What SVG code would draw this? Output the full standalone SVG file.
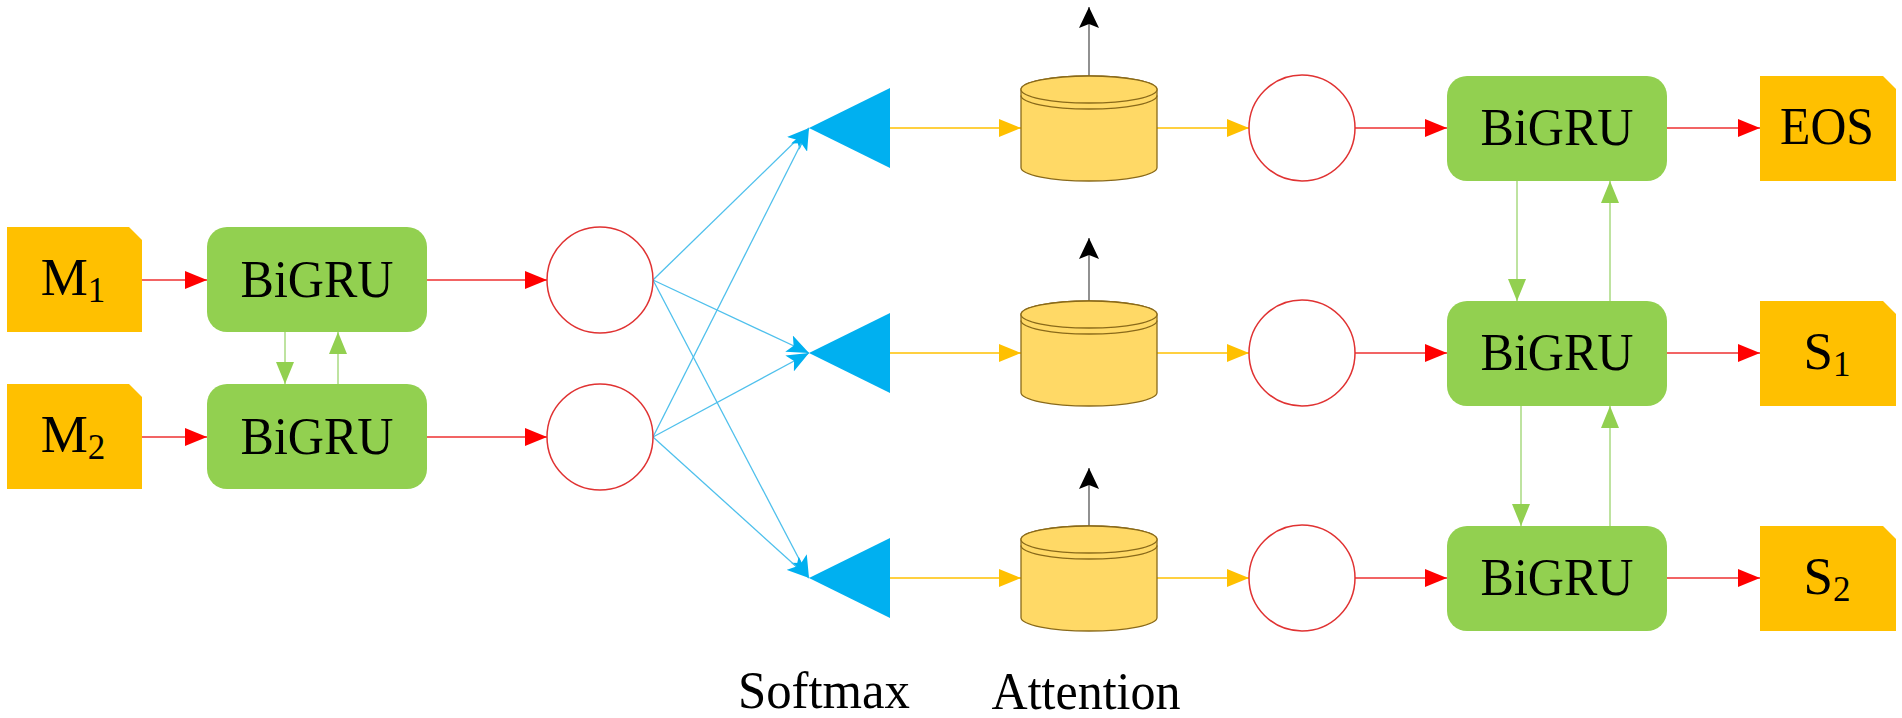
<svg xmlns="http://www.w3.org/2000/svg" xmlns:xlink="http://www.w3.org/1999/xlink" width="1902" height="718" viewBox="0 0 1902 718">
<style>
.doc{fill:#FFC000;}
.gru{fill:#92D050;}
.txt{font-family:"Liberation Serif","Times New Roman",serif;font-size:53px;fill:#000;text-anchor:middle;}
.sub{font-size:35px;}
.circ{fill:#fff;stroke:#E03232;stroke-width:1.5;}
.soft{fill:#00B0F0;}
.red{stroke:#EE3030;stroke-width:1.5;fill:none;}
.yel{stroke:#FFC000;stroke-width:1.5;fill:none;}
.grn{stroke:#A8DA80;stroke-width:1.5;fill:none;}
.blu{stroke:#4FC0EC;stroke-width:1.3;fill:none;}
.blk{stroke:#555;stroke-width:1.3;fill:none;}
.cyl{fill:#FFD966;stroke:#8A6A1A;stroke-width:1.3;}
.cylring{fill:none;stroke:#8A6A1A;stroke-width:1.3;}
</style>
<defs>
<marker id="mRed" markerUnits="userSpaceOnUse" markerWidth="22" markerHeight="18" refX="22" refY="9" orient="auto"><path d="M0,0 L22,9 L0,18 z" fill="#FF0000"/></marker>
<marker id="mYel" markerUnits="userSpaceOnUse" markerWidth="22" markerHeight="18" refX="22" refY="9" orient="auto"><path d="M0,0 L22,9 L0,18 z" fill="#FFC000"/></marker>
<marker id="mGrn" markerUnits="userSpaceOnUse" markerWidth="22" markerHeight="18" refX="22" refY="9" orient="auto"><path d="M0,0 L22,9 L0,18 z" fill="#92D050"/></marker>
<marker id="mBlk" markerUnits="userSpaceOnUse" markerWidth="21" markerHeight="20" refX="21" refY="10" orient="auto"><path d="M0,0 L21,10 L0,20 L4,10 z" fill="#000"/></marker>
<marker id="mBlu" markerUnits="userSpaceOnUse" markerWidth="22" markerHeight="18" refX="22" refY="9" orient="auto"><path d="M0,0 L22,9 L0,18 L5,9 z" fill="#00B0F0"/></marker>
<g id="cylShape">
<path class="cyl" d="M1021,13.5 L1021,91.5 A68,13.5 0 0 0 1157,91.5 L1157,13.5 A68,13.5 0 0 0 1021,13.5 Z"/>
<ellipse class="cyl" cx="1089" cy="13.5" rx="68" ry="13.5"/>
<path class="cylring" d="M1021,19.5 A68,13.5 0 0 0 1157,19.5"/>
</g>
</defs>

<g id="connectors">
<line class="red" x1="142" y1="280" x2="207" y2="280" marker-end="url(#mRed)"/>
<line class="red" x1="142" y1="437" x2="207" y2="437" marker-end="url(#mRed)"/>
<line class="grn" x1="285" y1="332" x2="285" y2="384" marker-end="url(#mGrn)"/>
<line class="grn" x1="338" y1="384" x2="338" y2="332" marker-end="url(#mGrn)"/>
<line class="red" x1="427" y1="280" x2="547" y2="280" marker-end="url(#mRed)"/>
<line class="red" x1="427" y1="437" x2="547" y2="437" marker-end="url(#mRed)"/>
<line class="blu" x1="653" y1="280" x2="809" y2="128" marker-end="url(#mBlu)"/>
<line class="blu" x1="653" y1="437" x2="809" y2="128" marker-end="url(#mBlu)"/>
<line class="blu" x1="653" y1="280" x2="809" y2="353" marker-end="url(#mBlu)"/>
<line class="blu" x1="653" y1="437" x2="809" y2="353" marker-end="url(#mBlu)"/>
<line class="blu" x1="653" y1="280" x2="809" y2="578" marker-end="url(#mBlu)"/>
<line class="blu" x1="653" y1="437" x2="809" y2="578" marker-end="url(#mBlu)"/>
<line class="yel" x1="890" y1="128" x2="1021" y2="128" marker-end="url(#mYel)"/>
<line class="yel" x1="1157" y1="128" x2="1249" y2="128" marker-end="url(#mYel)"/>
<line class="blk" x1="1089" y1="76" x2="1089" y2="7" marker-end="url(#mBlk)"/>
<line class="red" x1="1355" y1="128" x2="1447" y2="128" marker-end="url(#mRed)"/>
<line class="red" x1="1667" y1="128" x2="1760" y2="128" marker-end="url(#mRed)"/>
<line class="yel" x1="890" y1="353" x2="1021" y2="353" marker-end="url(#mYel)"/>
<line class="yel" x1="1157" y1="353" x2="1249" y2="353" marker-end="url(#mYel)"/>
<line class="blk" x1="1089" y1="301" x2="1089" y2="238" marker-end="url(#mBlk)"/>
<line class="red" x1="1355" y1="353" x2="1447" y2="353" marker-end="url(#mRed)"/>
<line class="red" x1="1667" y1="353" x2="1760" y2="353" marker-end="url(#mRed)"/>
<line class="yel" x1="890" y1="578" x2="1021" y2="578" marker-end="url(#mYel)"/>
<line class="yel" x1="1157" y1="578" x2="1249" y2="578" marker-end="url(#mYel)"/>
<line class="blk" x1="1089" y1="526" x2="1089" y2="468" marker-end="url(#mBlk)"/>
<line class="red" x1="1355" y1="578" x2="1447" y2="578" marker-end="url(#mRed)"/>
<line class="red" x1="1667" y1="578" x2="1760" y2="578" marker-end="url(#mRed)"/>
<line class="grn" x1="1517" y1="181" x2="1517" y2="301" marker-end="url(#mGrn)"/>
<line class="grn" x1="1610" y1="301" x2="1610" y2="181" marker-end="url(#mGrn)"/>
<line class="grn" x1="1521" y1="406" x2="1521" y2="526" marker-end="url(#mGrn)"/>
<line class="grn" x1="1610" y1="526" x2="1610" y2="406" marker-end="url(#mGrn)"/>
</g>

<g id="M1"><path class="doc" d="M7,227 L129,227 L142,240 L142,332 L7,332 Z"/><text class="txt" x="73" y="295">M<tspan class="sub" dy="7">1</tspan></text></g>
<g id="M2"><path class="doc" d="M7,384 L129,384 L142,397 L142,489 L7,489 Z"/><text class="txt" x="73" y="452">M<tspan class="sub" dy="7">2</tspan></text></g>

<g id="bigru-l1"><rect class="gru" x="207" y="227" width="220" height="105" rx="20"/><text class="txt" x="317" y="297" textLength="153" lengthAdjust="spacingAndGlyphs">BiGRU</text></g>
<g id="bigru-l2"><rect class="gru" x="207" y="384" width="220" height="105" rx="20"/><text class="txt" x="317" y="454" textLength="153" lengthAdjust="spacingAndGlyphs">BiGRU</text></g>

<g id="circ-l1"><circle class="circ" cx="600" cy="280" r="53"/></g>
<g id="circ-l2"><circle class="circ" cx="600" cy="437" r="53"/></g>

<g id="softmax1"><polygon class="soft" points="809,128 890,88 890,168"/></g>
<g id="softmax2"><polygon class="soft" points="809,353 890,313 890,393"/></g>
<g id="softmax3"><polygon class="soft" points="809,578 890,538 890,618"/></g>

<g id="attn1"><use xlink:href="#cylShape" href="#cylShape" transform="translate(0,76)"/></g>
<g id="attn2"><use xlink:href="#cylShape" href="#cylShape" transform="translate(0,301)"/></g>
<g id="attn3"><use xlink:href="#cylShape" href="#cylShape" transform="translate(0,526)"/></g>

<g id="circ-r1"><circle class="circ" cx="1302" cy="128" r="53"/></g>
<g id="circ-r2"><circle class="circ" cx="1302" cy="353" r="53"/></g>
<g id="circ-r3"><circle class="circ" cx="1302" cy="578" r="53"/></g>

<g id="bigru-r1"><rect class="gru" x="1447" y="76" width="220" height="105" rx="20"/><text class="txt" x="1557" y="145" textLength="153" lengthAdjust="spacingAndGlyphs">BiGRU</text></g>
<g id="bigru-r2"><rect class="gru" x="1447" y="301" width="220" height="105" rx="20"/><text class="txt" x="1557" y="370" textLength="153" lengthAdjust="spacingAndGlyphs">BiGRU</text></g>
<g id="bigru-r3"><rect class="gru" x="1447" y="526" width="220" height="105" rx="20"/><text class="txt" x="1557" y="595" textLength="153" lengthAdjust="spacingAndGlyphs">BiGRU</text></g>

<g id="EOS"><path class="doc" d="M1760,76 L1883,76 L1896,89 L1896,181 L1760,181 Z"/><text class="txt" x="1827" y="144" textLength="94" lengthAdjust="spacingAndGlyphs">EOS</text></g>
<g id="S1"><path class="doc" d="M1760,301 L1883,301 L1896,314 L1896,406 L1760,406 Z"/><text class="txt" x="1827" y="369">S<tspan class="sub" dy="7">1</tspan></text></g>
<g id="S2"><path class="doc" d="M1760,526 L1883,526 L1896,539 L1896,631 L1760,631 Z"/><text class="txt" x="1827" y="594">S<tspan class="sub" dy="7">2</tspan></text></g>

<g id="labels">
<text class="txt" x="824" y="708" textLength="172" lengthAdjust="spacingAndGlyphs">Softmax</text>
<text class="txt" x="1086" y="709" textLength="189" lengthAdjust="spacingAndGlyphs">Attention</text>
</g>
</svg>
